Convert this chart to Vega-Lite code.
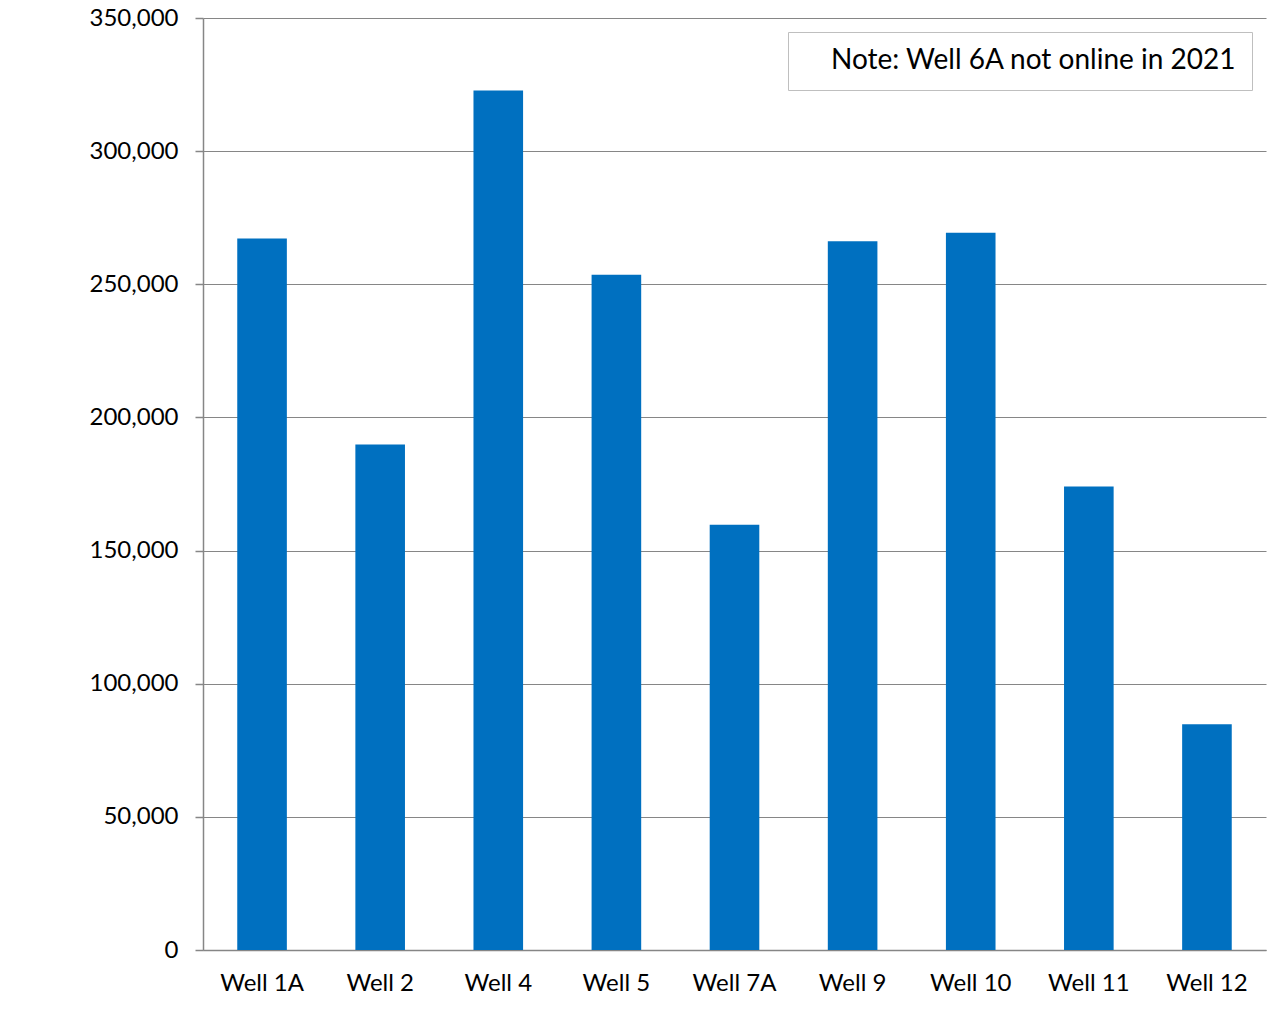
{
  "$schema": "https://vega.github.io/schema/vega-lite/v6.json",
  "width": 1063,
  "height": 932,
  "autosize": {"type": "none"},
  "padding": {"left": 203, "top": 18, "right": 22, "bottom": 82},
  "background": "white",
  "config": {"view": {"stroke": null}, "font": "Lato"},
  "data": {
    "values": [
      {"well": "Well 1A", "value": 267200},
      {"well": "Well 2", "value": 189800},
      {"well": "Well 4", "value": 322800},
      {"well": "Well 5", "value": 253600},
      {"well": "Well 7A", "value": 159700},
      {"well": "Well 9", "value": 266200},
      {"well": "Well 10", "value": 269400},
      {"well": "Well 11", "value": 174100},
      {"well": "Well 12", "value": 84750}
    ]
  },
  "mark": {"type": "bar"},
  "encoding": {
    "x": {
      "field": "well",
      "type": "nominal",
      "sort": null,
      "scale": {"paddingInner": 0.58, "paddingOuter": 0.29},
      "axis": {
        "title": null,
        "labelAngle": 0,
        "ticks": false,
        "domainColor": "#868686",
        "domainWidth": 1.5,
        "labelFontSize": 24,
        "labelColor": "black",
        "labelPadding": 21
      }
    },
    "y": {
      "field": "value",
      "type": "quantitative",
      "scale": {"domain": [0, 350000], "nice": false},
      "axis": {
        "title": null,
        "values": [0, 50000, 100000, 150000, 200000, 250000, 300000, 350000],
        "format": ",d",
        "tickSize": 8,
        "tickColor": "#868686",
        "tickWidth": 1.5,
        "domainColor": "#868686",
        "domainWidth": 1.5,
        "gridColor": "#868686",
        "gridWidth": 1.2,
        "labelFontSize": 24,
        "labelColor": "black",
        "labelPadding": 17
      }
    },
    "color": {
      "datum": "Note: Well 6A not online in 2021",
      "type": "nominal",
      "scale": {"range": ["#0070C0"]},
      "legend": {
        "title": null,
        "orient": "top-right",
        "offset": 14,
        "padding": 15,
        "strokeColor": "#BFBFBF",
        "fillColor": "white",
        "symbolOpacity": 0,
        "symbolStrokeWidth": 0,
        "symbolSize": 0,
        "labelFontSize": 28,
        "labelColor": "black",
        "labelOffset": 0,
        "labelLimit": 700
      }
    }
  }
}
